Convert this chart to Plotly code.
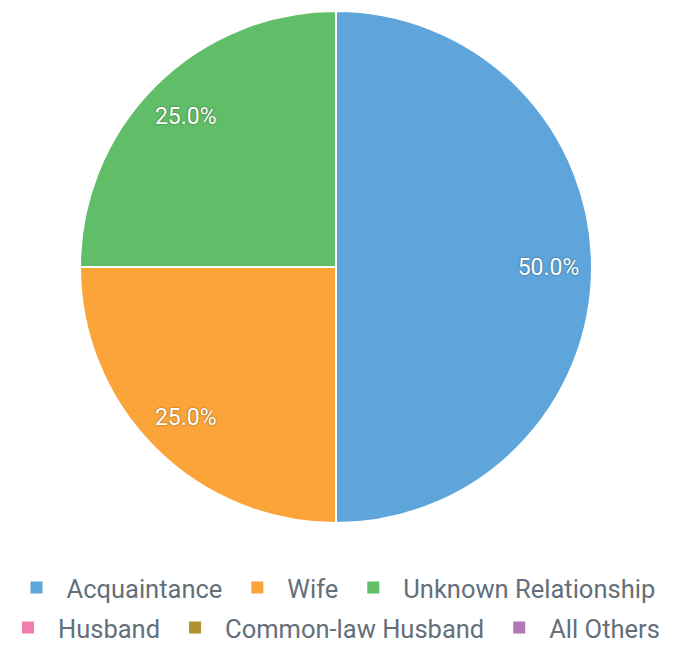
import plotly.graph_objects as go

labels = ["Acquaintance", "Wife", "Unknown Relationship", "Husband", "Common-law Husband", "All Others"]
values = [2, 1, 1, 0, 0, 0]
colors = ["#5DA5DA", "#FAA43A", "#60BD68", "#F17CB0", "#B2912F", "#B276B2"]

W, H = 687, 647
cx, cy, r = 336, 267, 256
dom = dict(x=[(cx - r) / W, (cx + r) / W], y=[1 - (cy + r) / H, 1 - (cy - r) / H])

fig = go.Figure()
fig.add_trace(go.Pie(
    labels=labels,
    values=values,
    sort=False,
    direction="clockwise",
    rotation=0,
    marker=dict(colors=colors, line=dict(color="white", width=2)),
    textinfo="none",
    hoverinfo="label+value+percent",
    showlegend=False,
    domain=dom,
))
# transparent ring overlay used only to place the percentage labels near the rim
fig.add_trace(go.Pie(
    labels=labels,
    values=values,
    sort=False,
    direction="clockwise",
    rotation=0,
    hole=0.66,
    marker=dict(colors=["rgba(0,0,0,0)"] * len(labels), line=dict(width=0)),
    texttemplate="%{percent:.1%}",
    textposition="inside",
    insidetextorientation="horizontal",
    textfont=dict(family="Roboto", size=23, color="white", weight="normal",
                  shadow="0px 0px 2px rgba(0,0,0,0.5)"),
    hoverinfo="skip",
    showlegend=False,
    domain=dom,
))

# legend-only entries (one per category, including the zero-valued ones), in two rows
for i, (lab, col) in enumerate(zip(labels, colors)):
    fig.add_trace(go.Scatter(
        x=[None], y=[None], mode="markers", name=lab,
        marker=dict(symbol="square", size=12, color=col),
        legend="legend" if i < 3 else "legend2",
        hoverinfo="skip",
    ))

legfont = dict(family="Roboto", size=25.5, color="#646f7a")
fig.update_layout(
    width=W, height=H,
    margin=dict(l=0, r=0, t=0, b=0, autoexpand=False),
    paper_bgcolor="white",
    plot_bgcolor="white",
    showlegend=True,
    xaxis=dict(visible=False),
    yaxis=dict(visible=False),
    legend=dict(orientation="h", x=(W / 2 - 10) / W, xanchor="center", traceorder="normal",
                y=1 - 588 / H, yanchor="middle", font=legfont, itemwidth=50),
    legend2=dict(orientation="h", x=(W / 2 - 12) / W, xanchor="center", traceorder="normal",
                 y=1 - 628 / H, yanchor="middle", font=legfont, itemwidth=50),
)

fig.write_html("out.html", config={"displayModeBar": False},
               post_script="document.body.style.margin='0';")
